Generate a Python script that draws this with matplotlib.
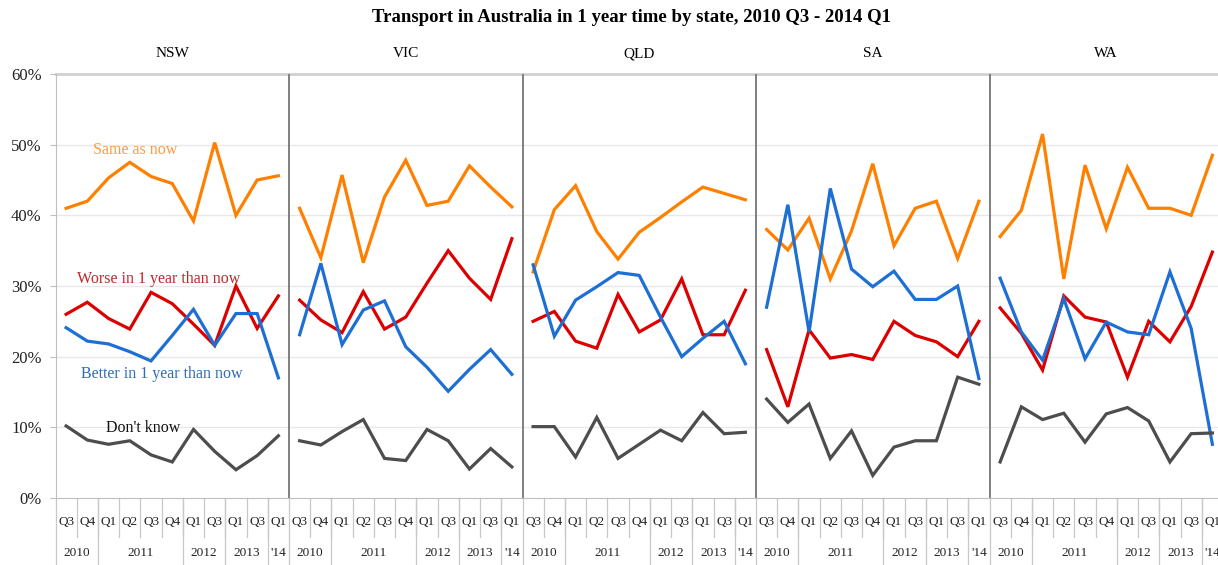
import matplotlib
matplotlib.use("Agg")
import matplotlib.pyplot as plt
import matplotlib.transforms as mtransforms

states = ["NSW", "VIC", "QLD", "SA", "WA"]
quarters = ["Q3", "Q4", "Q1", "Q2", "Q3", "Q4", "Q1", "Q3", "Q1", "Q3", "Q1"]
years = ["2010", "2011", "2012", "2013", "'14"]
year_spans = [2, 4, 2, 2, 1]

same_as_now = {
    "NSW": [41.0, 42.0, 45.3, 47.5, 45.5, 44.5, 39.2, 50.3, 40.0, 45.0, 45.6],
    "VIC": [41.0, 34.0, 45.7, 33.3, 42.6, 47.8, 41.4, 42.0, 47.0, 44.0, 41.2],
    "QLD": [32.0, 40.8, 44.2, 37.7, 33.8, 37.6, 39.7, 41.9, 44.0, 43.1, 42.2],
    "SA":  [38.0, 35.1, 39.6, 31.0, 37.8, 47.3, 35.7, 41.0, 42.0, 33.9, 42.0],
    "WA":  [37.0, 40.7, 51.5, 31.0, 47.1, 38.1, 46.8, 41.0, 41.0, 40.0, 48.5],
}
worse = {
    "NSW": [26.0, 27.7, 25.4, 23.9, 29.1, 27.5, 24.6, 21.6, 30.0, 24.0, 28.6],
    "VIC": [28.0, 25.2, 23.4, 29.2, 23.9, 25.6, 30.4, 35.0, 31.1, 28.1, 36.7],
    "QLD": [25.0, 26.4, 22.2, 21.2, 28.8, 23.5, 25.2, 31.0, 23.1, 23.1, 29.4],
    "SA":  [21.0, 12.9, 23.8, 19.8, 20.3, 19.6, 25.0, 23.0, 22.1, 20.0, 25.0],
    "WA":  [26.9, 23.3, 18.1, 28.6, 25.6, 24.9, 17.1, 25.0, 22.1, 27.1, 34.8],
}
better = {
    "NSW": [24.1, 22.2, 21.8, 20.7, 19.4, 23.0, 26.7, 21.6, 26.1, 26.1, 17.0],
    "VIC": [23.1, 33.2, 21.7, 26.6, 27.9, 21.4, 18.5, 15.1, 18.2, 21.0, 17.5],
    "QLD": [33.0, 22.9, 28.0, 29.9, 31.9, 31.5, 25.6, 20.0, 22.6, 25.0, 19.0],
    "SA":  [27.0, 41.5, 23.5, 43.8, 32.4, 29.9, 32.1, 28.1, 28.1, 30.0, 16.9],
    "WA":  [31.1, 23.5, 19.5, 28.2, 19.7, 24.9, 23.5, 23.1, 32.0, 24.0, 7.6],
}
dont_know = {
    "NSW": [10.2, 8.2, 7.6, 8.1, 6.1, 5.1, 9.7, 6.6, 4.0, 6.0, 8.8],
    "VIC": [8.1, 7.5, 9.4, 11.1, 5.6, 5.3, 9.7, 8.1, 4.1, 7.0, 4.4],
    "QLD": [10.1, 10.1, 5.8, 11.4, 5.6, 7.6, 9.6, 8.1, 12.1, 9.1, 9.3],
    "SA":  [14.0, 10.7, 13.3, 5.6, 9.5, 3.2, 7.2, 8.1, 8.1, 17.1, 16.1],
    "WA":  [5.1, 12.9, 11.1, 12.0, 7.9, 11.9, 12.8, 10.9, 5.1, 9.1, 9.2],
}

series = [
    ("Same as now", same_as_now, "#FF8000", "#FF9A40"),
    ("Worse in 1 year than now", worse, "#DD0000", "#C0272D"),
    ("Better in 1 year than now", better, "#1E6FD4", "#2E6DB8"),
    ("Don't know", dont_know, "#4D4D4D", "#111111"),
]

plt.rcParams['font.family'] = ['Liberation Serif', 'DejaVu Serif']

W, H = 1218, 565
fig = plt.figure(figsize=(W / 100, H / 100), dpi=100)
left_px, right_px, top_px, bot_px = 55.5, 1223.0, 74.0, 498.0
ax = fig.add_axes([left_px / W, 1 - bot_px / H, (right_px - left_px) / W, (bot_px - top_px) / H])

n_q = len(quarters)
n_s = len(states)
ax.set_xlim(0, n_q * n_s)
ax.set_ylim(0, 60)

for name, data, lc, tc in series:
    for p, st in enumerate(states):
        xs = [p * n_q + i + 0.5 for i in range(n_q)]
        ax.plot(xs, data[st], color=lc, lw=2.3, solid_joinstyle='miter', zorder=3)

# grid
ax.set_yticks(range(0, 61, 10))
ax.set_yticklabels([f"{v}%" for v in range(0, 61, 10)], fontsize=12, color="#222222")
for v in range(10, 60, 10):
    ax.axhline(v, color="#E8E8E8", lw=1.0, zorder=1)
ax.tick_params(axis='y', length=4, color="#BFBFBF", pad=6)
ax.set_xticks([])
for s in ["top", "right"]:
    ax.spines[s].set_visible(False)
ax.spines["left"].set_color("#BFBFBF")
ax.spines["bottom"].set_color("#BFBFBF")
ax.axhline(60, color="#D0D0D0", lw=2.0, zorder=1, clip_on=False)

# panel separators
for p in range(1, n_s):
    ax.axvline(p * n_q, color="#7F7F7F", lw=1.4, zorder=2)

# category axis labels
trans = mtransforms.blended_transform_factory(ax.transData, ax.transAxes)
q_y = -0.056
y_y = -0.13
short_bot = -0.092
long_bot = -0.16
for p, st in enumerate(states):
    base = p * n_q
    ax.text(base + n_q / 2, 1.040, st, transform=trans, ha="center", va="baseline", fontsize=11)
    for i, q in enumerate(quarters):
        ax.text(base + i + 0.5, q_y, q, transform=trans, ha="center", va="center", fontsize=9.5, color="#222222")
    for i in range(1, n_q):
        ax.plot([base + i, base + i], [0, short_bot], transform=trans, color="#C8C8C8", lw=0.9, clip_on=False)
    pos = 0
    for yr, span in zip(years, year_spans):
        ax.text(base + pos + span / 2, y_y, yr, transform=trans, ha="center", va="center", fontsize=9.5, color="#222222")
        ax.plot([base + pos, base + pos], [0, long_bot], transform=trans, color="#C8C8C8", lw=0.9, clip_on=False)
        pos += span
ax.plot([n_q * n_s, n_q * n_s], [0, long_bot], transform=trans, color="#C8C8C8", lw=0.9, clip_on=False)

# series labels in first panel
ax.text(3.74, 49.2, "Same as now", color=series[0][3], fontsize=11.5, ha="center", va="center")
ax.text(1.0, 31.0, "Worse in 1 year than now", color=series[1][3], fontsize=11.5, ha="left", va="center")
ax.text(1.2, 17.5, "Better in 1 year than now", color=series[2][3], fontsize=11.5, ha="left", va="center")
ax.text(2.38, 9.9, "Don't know", color=series[3][3], fontsize=11.5, ha="left", va="center")

fig.text(631 / W, 1 - 18 / H, "Transport in Australia in 1 year time by state, 2010 Q3 - 2014 Q1",
         ha="center", va="center", fontsize=13.5, fontweight="bold")

fig.savefig("out.png", dpi=100)
